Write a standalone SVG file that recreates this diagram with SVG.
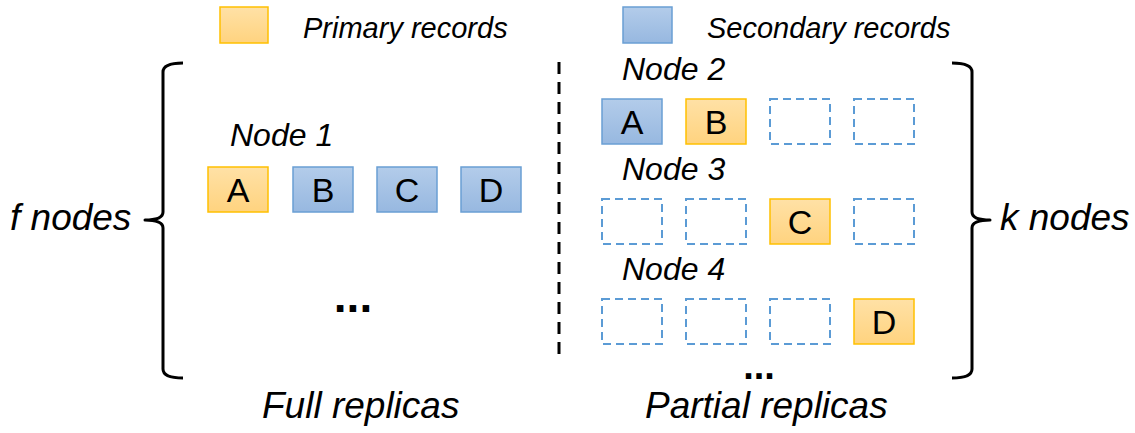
<svg xmlns="http://www.w3.org/2000/svg" width="1135" height="433" viewBox="0 0 1135 433">
<defs>
<linearGradient id="gO" x1="0" y1="0" x2="0" y2="1"><stop offset="0" stop-color="#FFE1A6"/><stop offset="1" stop-color="#FFD37F"/></linearGradient>
<linearGradient id="gB" x1="0" y1="0" x2="0" y2="1"><stop offset="0" stop-color="#B3CCEA"/><stop offset="1" stop-color="#97B8E0"/></linearGradient>
</defs>
<style>
.o{fill:url(#gO);stroke:#FFC000;stroke-width:1.5}
.b{fill:url(#gB);stroke:#6A9FD4;stroke-width:1.5}
.e{fill:none;stroke:#5B9BD5;stroke-width:2;stroke-dasharray:8 5}
.t{font-family:"Liberation Sans",Arial,sans-serif;fill:#000}
.i{font-style:italic}
.l{font-size:34px;text-anchor:middle}
.n{font-size:32px;font-style:italic}
.br{fill:none;stroke:#000;stroke-width:3;stroke-linejoin:round}
</style>
<g id="legend">
<rect class="o" x="220" y="7" width="48" height="36"/>
<text class="t i" x="303" y="38" font-size="29">Primary records</text>
<rect class="b" x="623" y="7" width="49" height="36"/>
<text class="t i" x="707" y="38" font-size="29">Secondary records</text>
</g>
<g id="braces">
<path class="br" d="M183,63 Q163,63 163,72 L163,212 Q163,220 145,220 Q163,220 163,228 L163,369 Q163,378 183,378"/>
<path class="br" d="M952,63 Q972,63 972,72 L972,212 Q972,220 990,220 Q972,220 972,228 L972,369 Q972,378 952,378"/>
<line x1="559" y1="62" x2="559" y2="355" stroke="#000" stroke-width="3" stroke-dasharray="12 8"/>
</g>
<g id="node1">
<text class="t n" x="230" y="146">Node 1</text>
<rect class="o" x="208" y="167" width="60" height="45"/><text class="t l" x="238" y="202">A</text>
<rect class="b" x="293" y="167" width="60" height="45"/><text class="t l" x="323" y="202">B</text>
<rect class="b" x="377" y="167" width="60" height="45"/><text class="t l" x="407" y="202">C</text>
<rect class="b" x="461" y="167" width="60" height="45"/><text class="t l" x="491" y="202">D</text>
<text class="t" x="353" y="312" font-size="46" font-weight="bold" text-anchor="middle">...</text>
</g>
<g id="node2">
<text class="t n" x="622" y="80">Node 2</text>
<rect class="b" x="602" y="99" width="60" height="45"/><text class="t l" x="632" y="134">A</text>
<rect class="o" x="686" y="99" width="60" height="45"/><text class="t l" x="716" y="134">B</text>
<rect class="e" x="770" y="99" width="60" height="45"/>
<rect class="e" x="854" y="99" width="60" height="45"/>
</g>
<g id="node3">
<text class="t n" x="622" y="180">Node 3</text>
<rect class="e" x="602" y="199" width="60" height="45"/>
<rect class="e" x="686" y="199" width="60" height="45"/>
<rect class="o" x="770" y="199" width="60" height="45"/><text class="t l" x="800" y="234">C</text>
<rect class="e" x="854" y="199" width="60" height="45"/>
</g>
<g id="node4">
<text class="t n" x="622" y="280">Node 4</text>
<rect class="e" x="602" y="299" width="60" height="45"/>
<rect class="e" x="686" y="299" width="60" height="45"/>
<rect class="e" x="770" y="299" width="60" height="45"/>
<rect class="o" x="854" y="299" width="60" height="45"/><text class="t l" x="884" y="334">D</text>
<text class="t" x="759" y="379" font-size="38" font-weight="bold" text-anchor="middle">...</text>
</g>
<g id="labels">
<text class="t i" x="10" y="230" font-size="37">f nodes</text>
<text class="t i" x="1000" y="230" font-size="37">k nodes</text>
<text class="t i" x="262" y="418" font-size="37">Full replicas</text>
<text class="t i" x="645" y="418" font-size="37">Partial replicas</text>
</g>
</svg>
